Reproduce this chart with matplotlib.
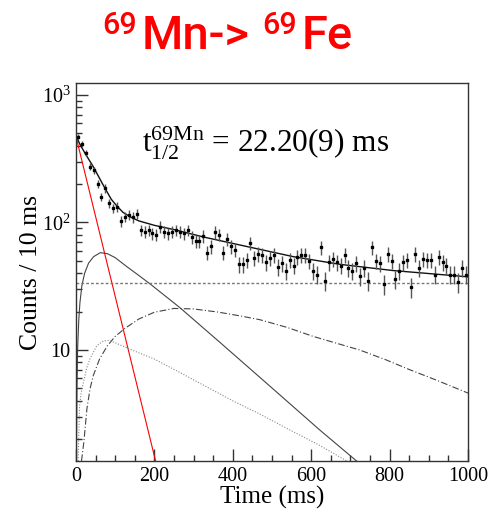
import numpy as np
import matplotlib
matplotlib.use("Agg")
import matplotlib.pyplot as plt
from matplotlib.ticker import FixedLocator, NullFormatter, FixedFormatter

plt.rcParams['font.family'] = 'Liberation Serif'
plt.rcParams['mathtext.fontset'] = 'custom'
plt.rcParams['mathtext.rm'] = 'Liberation Serif'
plt.rcParams['mathtext.it'] = 'Liberation Serif:italic'

# ---- data ----
# histogram: bin centres (ms) and counts per 10 ms
bin_centres = np.arange(5, 1000, 10)
counts = np.array([
    471, 413, 349, 274, 258, 200, 159, 185, 141, 129,
    133, 103, 111, 115, 110, 117, 87, 85, 87, 82,
    80, 93, 85, 82, 85, 87, 85, 82, 87, 77,
    72, 71, 78, 58, 65, 84, 80, 58, 74, 65,
    61, 47, 47, 51, 69, 53, 57, 56, 49, 53,
    56, 45, 48, 42, 51, 46, 54, 56, 56, 50,
    42, 39, 64, 35, 49, 52, 49, 46, 56, 44,
    42, 48, 38, 44, 35, 64, 50, 48, 33, 57,
    50, 36, 42, 49, 51, 31, 57, 44, 52, 51,
    51, 39, 54, 49, 46, 39, 39, 34, 44, 39,
])

# total fit
fit_t = [0, 10, 23, 44, 70, 90, 104, 120, 140, 160, 200, 250, 325, 444, 554, 673, 809, 1000]
fit_y = [480, 410, 349, 274, 195, 152, 135, 120, 110, 103, 95, 88, 77, 64, 54, 47, 42, 37.5]

# parent 69Mn decay (red)
parent_t = [0, 203]
parent_y = [471, 1.35]

# daughter 69Fe (solid)
daughter_t = [1, 2.5, 4, 7, 10, 15, 22, 32, 45, 62, 80, 100, 130, 160, 189, 265,
              367, 486, 622, 712, 800]
daughter_y = [1.35, 5, 10, 17, 23.5, 32, 40, 48, 54, 58, 57, 53, 45, 38.5, 33, 21.5,
              11.5, 5.5, 2.36, 1.38, 0.82]

# granddaughter (dash-dot)
grand_t = [14, 20, 28, 36, 44, 60, 80, 100, 125, 160, 200, 250, 300, 360, 420, 469,
           540, 605, 665, 724, 790, 852, 920, 1000]
grand_y = [1.35, 1.9, 3.5, 5.0, 6.3, 8.5, 10.8, 12.8, 14.8, 17.5, 19.8, 21.2, 21.0,
           19.9, 18.5, 17.3, 15.0, 12.8, 11.3, 10.0, 8.4, 7.0, 5.8, 4.6]

# other branch (dotted)
branch_t = [5.5, 7.5, 9, 13, 19, 27, 36, 53, 70, 85, 100, 150, 200, 260, 333, 400,
            469, 546, 620, 691, 760]
branch_y = [1.35, 2.5, 3.6, 4.6, 5.6, 7.2, 8.6, 10.8, 11.8, 11.9, 11.4, 9.8, 8.5, 6.8,
            5.15, 4.0, 3.15, 2.36, 1.8, 1.35, 1.05]

# constant background
background = 33.5

# ---- figure ----
fig = plt.figure(figsize=(5.04, 5.09), dpi=100)
ax = fig.add_axes([0.1508, 0.0943, 0.7778, 0.7426])

ax.plot(parent_t, parent_y, color='red', lw=0.8)
ax.plot(daughter_t, daughter_y, color='#444444', lw=0.8)
ax.plot(grand_t, grand_y, color='#444444', lw=0.8, dashes=(6, 2, 1, 2))
ax.plot(branch_t, branch_y, color='#888888', lw=0.8, dashes=(1, 1.5))
ax.axhline(background, color='#777777', lw=1.0, dashes=(2, 1.5))
ax.plot(fit_t, fit_y, color='#111111', lw=1.0)
ax.errorbar(bin_centres, counts, yerr=np.sqrt(counts), fmt='s', ms=1.6,
            color='black', ecolor='#555555', elinewidth=1.0, capsize=0)

ax.set_yscale('log')
ax.set_xlim(0, 1000)
ax.set_ylim(1.35, 1240)

ax.xaxis.set_major_locator(FixedLocator([0, 200, 400, 600, 800, 1000]))
ax.xaxis.set_minor_locator(FixedLocator(np.arange(50, 1000, 50)))
ax.yaxis.set_major_locator(FixedLocator([10, 100, 1000]))
ax.yaxis.set_major_formatter(FixedFormatter(['10', r'$10^{2}$', r'$10^{3}$']))
minors = [m * d for d in (1, 10, 100) for m in range(2, 10)]
ax.yaxis.set_minor_locator(FixedLocator(minors))
ax.yaxis.set_minor_formatter(NullFormatter())

ax.tick_params(which='both', direction='in', colors='#333333', labelcolor='black',
               labelsize=14.5, top=False, right=False)
ax.tick_params(which='major', length=8.5, width=1.0)
ax.tick_params(which='minor', length=4.5, width=1.0)
ax.tick_params(axis='x', pad=4)
ax.tick_params(axis='y', pad=4)
for s in ax.spines.values():
    s.set_color('#333333')
    s.set_linewidth(1.0)

ax.set_xlabel('Time (ms)', fontsize=18, labelpad=0)
ax.set_ylabel('Counts / 10 ms', fontsize=18.5, labelpad=0)

fig.text(0.281, 0.70, r'$\mathrm{t}_{1/2}^{69\mathrm{Mn}}$ = 22.20(9) ms',
         fontsize=22.5, ha='left', va='baseline')

# title in red, pieces placed one by one
title_font = dict(color='red', family=['Roboto', 'DejaVu Sans'], va='baseline',
                  ha='left', weight='medium')
fig.text(102 / 504, 1 - 34 / 509, '69', fontsize=22, **title_font)
fig.text(142 / 504, 1 - 49 / 509, 'Mn->', fontsize=34, **title_font)
fig.text(262 / 504, 1 - 34 / 509, '69', fontsize=22, **title_font)
fig.text(302 / 504, 1 - 49 / 509, 'Fe', fontsize=34, **title_font)

fig.savefig('out.png', dpi=100)
